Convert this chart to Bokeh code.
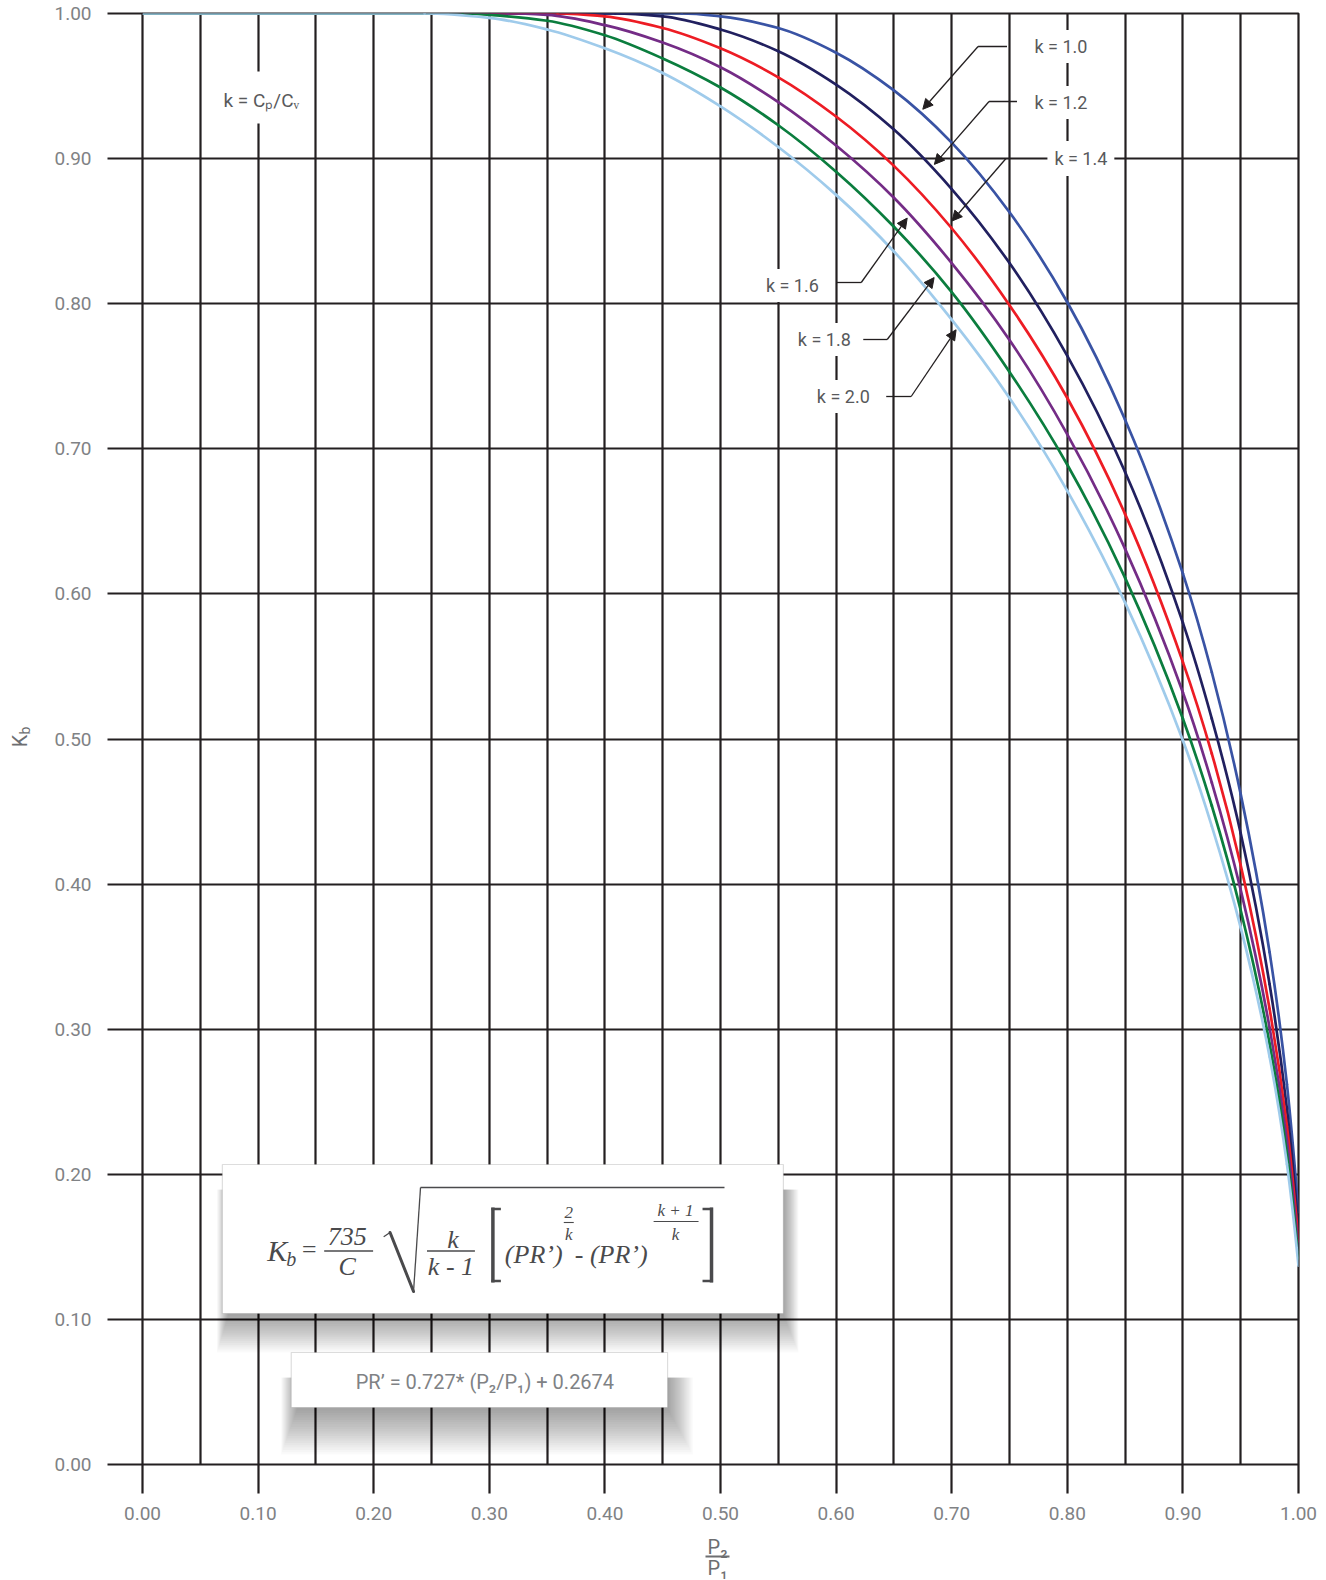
import math
from bokeh.plotting import figure
from bokeh.layouts import row, column
from bokeh.models import (Range1d, FixedTicker, Label, Arrow, NormalHead,
                          BoxAnnotation, PrintfTickFormatter)
from bokeh.embed import file_html
from bokeh.resources import INLINE

# ---------------- data ----------------
x_ticks = [0.0, 0.1, 0.2, 0.3, 0.4, 0.5, 0.6, 0.7, 0.8, 0.9, 1.0]
x_tick_labels = ["0.00", "0.10", "0.20", "0.30", "0.40", "0.50", "0.60", "0.70", "0.80", "0.90", "1.00"]
x_grid = [0.05, 0.1, 0.15, 0.2, 0.25, 0.3, 0.35, 0.4, 0.45, 0.5,
          0.55, 0.6, 0.65, 0.7, 0.75, 0.8, 0.85, 0.9, 0.95]
y_ticks = [0.0, 0.1, 0.2, 0.3, 0.4, 0.5, 0.6, 0.7, 0.8, 0.9, 1.0]
y_tick_labels = ["0.00", "0.10", "0.20", "0.30", "0.40", "0.50", "0.60", "0.70", "0.80", "0.90", "1.00"]

ratio_k10 = [0.0, 0.4665, 0.50, 0.55, 0.60, 0.65, 0.70, 0.75, 0.80, 0.85, 0.90, 0.925, 0.95, 0.975, 0.99, 1.0]
kb_k10 = [1.0, 1.0, 0.998, 0.990, 0.973, 0.947, 0.911, 0.863, 0.801, 0.720, 0.614, 0.546, 0.462, 0.353, 0.262, 0.174]

ratio_k12 = [0.0, 0.409, 0.45, 0.50, 0.55, 0.60, 0.65, 0.70, 0.75, 0.80, 0.85, 0.90, 0.925, 0.95, 0.975, 0.99, 1.0]
kb_k12 = [1.0, 1.0, 0.998, 0.989, 0.974, 0.951, 0.920, 0.879, 0.828, 0.764, 0.684, 0.580, 0.514, 0.435, 0.331, 0.245, 0.163]

ratio_k14 = [0.0, 0.359, 0.40, 0.45, 0.50, 0.55, 0.60, 0.65, 0.70, 0.75, 0.80, 0.85, 0.90, 0.925, 0.95, 0.975, 0.99, 1.0]
kb_k14 = [1.0, 1.0, 0.998, 0.990, 0.976, 0.956, 0.929, 0.895, 0.852, 0.799, 0.735, 0.655, 0.553, 0.490, 0.413, 0.314, 0.233, 0.154]

ratio_k16 = [0.0, 0.316, 0.35, 0.40, 0.45, 0.50, 0.55, 0.60, 0.65, 0.70, 0.75, 0.80, 0.85, 0.90, 0.925, 0.95, 0.975, 0.99, 1.0]
kb_k16 = [1.0, 1.0, 0.999, 0.992, 0.980, 0.963, 0.939, 0.909, 0.873, 0.828, 0.775, 0.710, 0.631, 0.532, 0.470, 0.396, 0.301, 0.223, 0.147]

ratio_k18 = [0.0, 0.277, 0.30, 0.35, 0.40, 0.45, 0.50, 0.55, 0.60, 0.65, 0.70, 0.75, 0.80, 0.85, 0.90, 0.925, 0.95, 0.975, 0.99, 1.0]
kb_k18 = [1.0, 1.0, 0.999, 0.995, 0.985, 0.969, 0.949, 0.923, 0.891, 0.853, 0.808, 0.753, 0.689, 0.611, 0.514, 0.454, 0.382, 0.290, 0.214, 0.142]

ratio_k20 = [0.0, 0.244, 0.30, 0.35, 0.40, 0.45, 0.50, 0.55, 0.60, 0.65, 0.70, 0.75, 0.80, 0.85, 0.90, 0.925, 0.95, 0.975, 0.99, 1.0]
kb_k20 = [1.0, 1.0, 0.997, 0.989, 0.976, 0.959, 0.936, 0.908, 0.875, 0.836, 0.789, 0.735, 0.671, 0.594, 0.499, 0.440, 0.370, 0.281, 0.207, 0.137]

series_names = ["k = 1.0", "k = 1.2", "k = 1.4", "k = 1.6", "k = 1.8", "k = 2.0"]
series_colors = ["#3953a4", "#21205f", "#ed1c24", "#742c86", "#0b7d3e", "#9fcbeb"]

INK = "#231f20"
TICK_GREY = "#808285"
LABEL_GREY = "#58595b"
TITLE_GREY = "#6d6e71"

# ---------------- main figure ----------------
LEFT_W = 51          # strip holding the rotated y title
MAIN_W, MAIN_H = 1326 - LEFT_W, 1536
BOTTOM_H = 1580 - MAIN_H

p = figure(width=MAIN_W, height=MAIN_H, x_range=Range1d(0, 1), y_range=Range1d(0, 1),
           output_backend="svg", toolbar_location=None,
           min_border_left=89, min_border_right=28, min_border_top=13, min_border_bottom=72)
p.outline_line_color = INK
p.outline_line_width = 2.2
p.outline_line_alpha = 1.0
p.background_fill_color = "white"
p.border_fill_color = "white"

# page-pixel -> data helpers (frame spans page x 140..1298, y 13..1464)
X0, X1 = 140.0, 1298.0
Y0, Y1 = 1464.0, 13.0
def dx(px):
    return (px - X0) / (X1 - X0)
def dy(py):
    return (Y0 - py) / (Y0 - Y1)

# grid
p.xgrid.ticker = FixedTicker(ticks=x_grid)
p.ygrid.ticker = FixedTicker(ticks=y_ticks)
for g in (p.xgrid, p.ygrid):
    g.grid_line_color = INK
    g.grid_line_width = 2.2
    g.grid_line_alpha = 1.0

# axes
p.xaxis.ticker = FixedTicker(ticks=x_ticks)
p.yaxis.ticker = FixedTicker(ticks=y_ticks)
p.xaxis.major_label_overrides = dict(zip(x_ticks, x_tick_labels))
p.yaxis.major_label_overrides = dict(zip(y_ticks, y_tick_labels))
for ax in (p.xaxis, p.yaxis):
    ax.formatter = PrintfTickFormatter(format="%.2f")
    ax.axis_line_color = None
    ax.minor_tick_line_color = None
    ax.major_tick_in = 0
    ax.major_tick_line_color = INK
    ax.major_tick_line_width = 2.2
    ax.major_label_text_font = "Roboto"
    ax.major_label_text_font_size = "19px"
    ax.major_label_text_color = TICK_GREY
p.xaxis.major_tick_out = 29
p.xaxis.major_label_standoff = 13
p.yaxis.major_tick_out = 35
p.yaxis.major_label_standoff = 16


# smooth (monotone cubic) drawing of each read-off series, as Bezier pieces
def bezier_pieces(xs, ys):
    n = len(xs)
    h = [xs[i + 1] - xs[i] for i in range(n - 1)]
    d = [(ys[i + 1] - ys[i]) / h[i] for i in range(n - 1)]
    m = [0.0] * n
    for i in range(1, n - 1):
        if d[i - 1] * d[i] <= 0:
            m[i] = 0.0
        else:
            w1 = 2 * h[i] + h[i - 1]
            w2 = h[i] + 2 * h[i - 1]
            m[i] = (w1 + w2) / (w1 / d[i - 1] + w2 / d[i])

    def end(h0, h1, d0, d1):
        mm = ((2 * h0 + h1) * d0 - h0 * d1) / (h0 + h1)
        if mm * d0 <= 0:
            return 0.0
        if d0 * d1 <= 0 and abs(mm) > abs(3 * d0):
            return 3 * d0
        return mm

    m[0] = end(h[0], h[1], d[0], d[1])
    m[-1] = end(h[-1], h[-2], d[-1], d[-2])
    return dict(
        x0=xs[:-1], y0=ys[:-1], x1=xs[1:], y1=ys[1:],
        cx0=[xs[i] + h[i] / 3 for i in range(n - 1)],
        cy0=[ys[i] + m[i] * h[i] / 3 for i in range(n - 1)],
        cx1=[xs[i + 1] - h[i] / 3 for i in range(n - 1)],
        cy1=[ys[i + 1] - m[i + 1] * h[i] / 3 for i in range(n - 1)],
    )


xs = [ratio_k10, ratio_k12, ratio_k14, ratio_k16, ratio_k18, ratio_k20]
ys = [kb_k10, kb_k12, kb_k14, kb_k16, kb_k18, kb_k20]
for xv, yv, c in zip(xs, ys, series_colors):
    p.bezier(line_color=c, line_width=2.7, line_cap="round", **bezier_pieces(xv, yv))


# ---------------- helpers for annotations ----------------
def lab(text, fx, fy, size, color=LABEL_GREY, font="Roboto", align="center",
        style="normal", bg=None, pad=0):
    l = Label(x=dx(fx), y=dy(fy), text=text, text_font=font,
              text_font_size=f"{size}px", text_color=color, text_align=align,
              text_baseline="middle", text_font_style=style)
    if bg is not None:
        l.background_fill_color = bg
        l.background_fill_alpha = 1.0
        l.padding = pad
    p.add_layout(l)


def seg(pts, w=1.3, color=INK, cap="butt"):
    for (a, b), (c, d) in zip(pts[:-1], pts[1:]):
        p.add_layout(Arrow(end=None, x_start=dx(a), y_start=dy(b), x_end=dx(c), y_end=dy(d),
                           line_width=w, line_color=color, line_cap=cap))


def arrow_to(fx, fy, tx, ty):
    p.add_layout(Arrow(end=NormalHead(size=10, fill_color=INK, line_color=INK, line_width=1),
                       x_start=dx(fx), y_start=dy(fy), x_end=tx, y_end=ty,
                       line_width=1.3, line_color=INK))


def box(L, T, R, B, fill, alpha=1.0, line=None, lw=1.0):
    p.add_layout(BoxAnnotation(left=dx(L), right=dx(R), top=dy(T), bottom=dy(B),
                               fill_color=fill, fill_alpha=alpha, line_color=line,
                               line_width=lw))


def shadow(L, T, R, B, n=20, step=2.0, alpha=0.02, right=0.45, left=0.3):
    for i in range(n):
        e = step * (i + 1)
        box(L - left * e + 6, T + 25, R + right * e, B + 1 + e, "black", alpha=alpha)


# ---------------- k labels with leaders ----------------
lab(series_names[0], 1060, 46, 18, bg="white", pad=6)
seg([(1006, 46), (977, 46)])
arrow_to(977, 46, 0.675, 0.934)

lab(series_names[1], 1060, 102, 18, bg="white", pad=6)
seg([(1016, 101), (988, 101)])
arrow_to(988, 101, 0.685, 0.896)

lab(series_names[2], 1080, 158, 18, bg="white", pad=7)
arrow_to(1005, 158, 0.7003, 0.857)

lab(series_names[3], 791, 285, 18, bg="white", pad=6)
seg([(835, 282), (860, 282)])
arrow_to(860, 282, 0.6615, 0.859)

lab(series_names[4], 823, 339, 18, bg="white", pad=6)
seg([(862, 339), (886, 339)])
arrow_to(886, 339, 0.6848, 0.818)

lab(series_names[5], 842, 396, 18, bg="white", pad=6)
seg([(885, 396), (910, 396)])
arrow_to(910, 396, 0.7038, 0.782)

# k = Cp/Cv note
box(248, 71, 270, 123, "white")
lab("k = C\u209a/C\u1d65", 259, 100, 19)

# ---------------- formula boxes ----------------
BIG = (220, 1164, 782, 1313)
SMALL = (289, 1352, 666, 1407)
shadow(*BIG, n=20, step=1.9, alpha=0.02, right=0.4, left=0.3)
shadow(*SMALL, n=20, step=2.3, alpha=0.02, right=0.55, left=0.35)
box(*BIG, "white", line="#8d8d8d", lw=1.2)
box(*SMALL, "white", line="#8d8d8d", lw=1.2)

F = "Liberation Serif"
FC = "#4a4a4c"
lab("K", 265, 1250, 30, color=FC, font=F, align="left", style="italic")
lab("b", 284, 1258, 20, color=FC, font=F, align="left", style="italic")
lab("=", 298, 1249, 26, color=FC, font=F, align="left", style="italic")
lab("735", 345, 1236, 26, color=FC, font=F, style="italic")
seg([(322, 1250.5), (371, 1250.5)], w=1.3, color=FC)
lab("C", 345, 1266, 26, color=FC, font=F, style="italic")
# radical sign
seg([(382, 1236), (388, 1232)], w=1.3, color=FC, cap="round")
seg([(388, 1232), (411.5, 1291)], w=3.0, color=FC, cap="round")
seg([(411.5, 1291), (418.5, 1187), (723, 1187)], w=1.3, color=FC)
lab("k", 451, 1239, 26, color=FC, font=F, style="italic")
seg([(425, 1250.5), (473, 1250.5)], w=1.3, color=FC)
lab("k - 1", 449, 1266, 26, color=FC, font=F, style="italic")
# brackets
seg([(491, 1207), (491, 1282)], w=3.5, color=FC)
seg([(489.5, 1208.5), (499, 1208.5)], w=2.5, color=FC)
seg([(489.5, 1280.5), (499, 1280.5)], w=2.5, color=FC)
seg([(710, 1207), (710, 1282)], w=3.5, color=FC)
seg([(701, 1208.5), (711.5, 1208.5)], w=2.5, color=FC)
seg([(701, 1280.5), (711.5, 1280.5)], w=2.5, color=FC)
lab("(PR\u2019)", 503, 1254, 26, color=FC, font=F, align="left", style="italic")
lab("2", 567, 1212, 17, color=FC, font=F, style="italic")
seg([(562, 1222), (572, 1222)], w=1.1, color=FC)
lab("k", 567, 1234, 17, color=FC, font=F, style="italic")
lab("- (PR\u2019)", 573, 1254, 26, color=FC, font=F, align="left", style="italic")
lab("k + 1", 674, 1210, 17, color=FC, font=F, style="italic")
seg([(652, 1221), (697, 1221)], w=1.1, color=FC)
lab("k", 674, 1234, 17, color=FC, font=F, style="italic")

lab("PR\u2019 = 0.727* (P\u2082/P\u2081) + 0.2674", 483, 1381, 20, color=TICK_GREY)


# ---------------- strips for the axis titles ----------------
def strip(w, h):
    f = figure(width=w, height=h, x_range=Range1d(0, w), y_range=Range1d(h, 0),
               output_backend="svg", toolbar_location=None,
               x_axis_type=None, y_axis_type=None, min_border=0)
    f.outline_line_color = None
    f.background_fill_color = "white"
    f.border_fill_color = "white"
    for g in f.grid:
        g.visible = False
    return f


left = strip(LEFT_W, MAIN_H)
left.add_layout(Label(x=19, y=770, text="K", angle=math.pi / 2, text_font="Roboto",
                      text_font_size="20px", text_color=TITLE_GREY,
                      text_align="center", text_baseline="middle"))
left.add_layout(Label(x=24, y=759, text="b", angle=math.pi / 2, text_font="Roboto",
                      text_font_size="14px", text_color=TITLE_GREY,
                      text_align="center", text_baseline="middle"))

bottom = strip(1326, BOTTOM_H)
bottom.add_layout(Label(x=717, y=10, text="P\u2082", text_font="Roboto",
                        text_font_size="20px", text_color=TITLE_GREY,
                        text_align="center", text_baseline="middle"))
bottom.add_layout(Arrow(end=None, x_start=705, y_start=20, x_end=729, y_end=20,
                        line_width=2.0, line_color=TITLE_GREY))
bottom.add_layout(Label(x=717, y=31, text="P\u2081", text_font="Roboto",
                        text_font_size="20px", text_color=TITLE_GREY,
                        text_align="center", text_baseline="middle"))

layout = column(row(left, p), bottom)
open("out.html", "w").write(file_html(layout, INLINE))
